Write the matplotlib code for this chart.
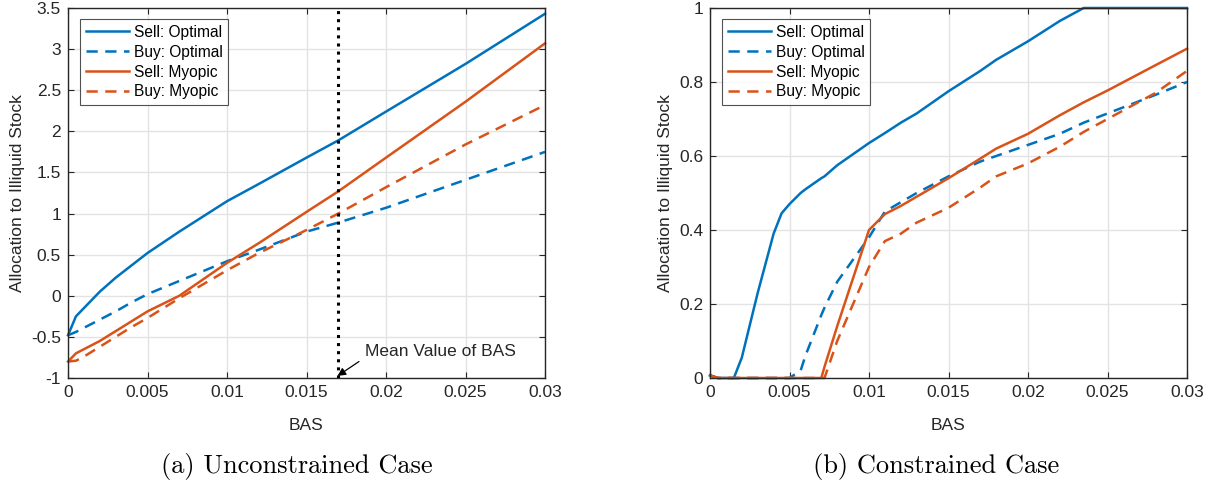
import matplotlib
matplotlib.use("Agg")
import matplotlib.pyplot as plt

plt.rcParams['font.family'] = ['Liberation Sans', 'DejaVu Sans']

BLUE = '#0072BD'
ORANGE = '#D95319'

# (a) unconstrained allocation vs bid-ask spread
bas_a = [0, 0.0005, 0.001, 0.002, 0.003, 0.004, 0.005, 0.007, 0.01, 0.012,
         0.015, 0.017, 0.02, 0.025, 0.03]
sell_opt_a = [-0.48, -0.25, -0.15, 0.05, 0.22, 0.37, 0.52, 0.78, 1.15, 1.36,
              1.68, 1.89, 2.24, 2.82, 3.43]
buy_opt_a = [-0.48, -0.44, -0.39, -0.29, -0.19, -0.08, 0.02, 0.18, 0.42, 0.56,
             0.78, 0.89, 1.07, 1.41, 1.75]
sell_myo_a = [-0.80, -0.70, -0.65, -0.55, -0.43, -0.31, -0.19, 0.0, 0.40, 0.64,
              1.02, 1.27, 1.68, 2.36, 3.07]
buy_myo_a = [-0.80, -0.79, -0.74, -0.62, -0.50, -0.38, -0.27, -0.03, 0.31, 0.52,
             0.80, 1.00, 1.32, 1.84, 2.32]
mean_bas = 0.01695

# (b) constrained allocation (long-only, capped at 1)
bas_b = [0, 0.0005, 0.0015, 0.002, 0.003, 0.004, 0.0045, 0.005, 0.0057, 0.006,
         0.007, 0.0072, 0.008, 0.01, 0.011, 0.012, 0.013, 0.015, 0.017, 0.018,
         0.02, 0.022, 0.0235, 0.025, 0.028, 0.03]
sell_opt_b = [0.007, 0.0, 0.0, 0.055, 0.23, 0.39, 0.445, 0.47, 0.50, 0.51,
              0.54, 0.545, 0.575, 0.635, 0.662, 0.69, 0.715, 0.775, 0.83, 0.86,
              0.91, 0.965, 1.0, 1.0, 1.0, 1.0]
buy_opt_b = [0.007, 0.0, 0.0, 0.0, 0.0, 0.0, 0.0, 0.0, 0.02, 0.06,
             0.17, 0.19, 0.26, 0.38, 0.45, 0.475, 0.50, 0.545, 0.585, 0.60,
             0.63, 0.66, 0.69, 0.715, 0.765, 0.80]
sell_myo_b = [0.007, 0.0, 0.0, 0.0, 0.0, 0.0, 0.0, 0.0, 0.0, 0.0,
              0.0, 0.03, 0.14, 0.40, 0.443, 0.465, 0.49, 0.54, 0.593, 0.62,
              0.66, 0.71, 0.745, 0.777, 0.845, 0.89]
buy_myo_b = [0.007, 0.0, 0.0, 0.0, 0.0, 0.0, 0.0, 0.0, 0.0, 0.0,
             0.0, 0.0, 0.10, 0.30, 0.37, 0.39, 0.42, 0.46, 0.515, 0.545,
             0.58, 0.625, 0.665, 0.70, 0.77, 0.83]

labels = ['Sell: Optimal', 'Buy: Optimal', 'Sell: Myopic', 'Buy: Myopic']
x_ticks = [0, 0.005, 0.01, 0.015, 0.02, 0.025, 0.03]
x_tick_labels = ['0', '0.005', '0.01', '0.015', '0.02', '0.025', '0.03']
y_ticks_a = [-1, -0.5, 0, 0.5, 1, 1.5, 2, 2.5, 3, 3.5]
y_tick_labels_a = ['-1', '-0.5', '0', '0.5', '1', '1.5', '2', '2.5', '3', '3.5']
y_ticks_b = [0, 0.2, 0.4, 0.6, 0.8, 1]
y_tick_labels_b = ['0', '0.2', '0.4', '0.6', '0.8', '1']

fig = plt.figure(figsize=(12.17, 4.82), dpi=100)
ax_a = fig.add_axes([68 / 1217, 104 / 482, 477 / 1217, 370 / 482])
ax_b = fig.add_axes([710 / 1217, 104 / 482, 477 / 1217, 370 / 482])

dash = (0, (4.5, 3))
FS = 12.5


def draw_panel(ax, x, series, yticks, ylabels, ylim):
    styles = [(BLUE, '-'), (BLUE, dash), (ORANGE, '-'), (ORANGE, dash)]
    for (c, ls), y, lab in zip(styles, series, labels):
        ax.plot(x, y, color=c, linestyle=ls, linewidth=1.8, label=lab,
                clip_on=False)
    ax.set_xlim(0, 0.03)
    ax.set_ylim(*ylim)
    ax.set_xticks(x_ticks)
    ax.set_xticklabels(x_tick_labels)
    ax.set_yticks(yticks)
    ax.set_yticklabels(ylabels)
    ax.grid(True, color='#e3e3e3', linewidth=1)
    ax.set_axisbelow(True)
    ax.tick_params(direction='in', top=True, right=True, length=4,
                   labelsize=FS, colors='#262626', pad=5)
    for sp in ax.spines.values():
        sp.set_color('#262626')
        sp.set_linewidth(1)
    ax.set_xlabel('BAS', fontsize=FS, color='#262626', labelpad=13)
    ax.set_ylabel('Allocation to Illiquid Stock', fontsize=FS,
                  color='#262626', labelpad=4)
    leg = ax.legend(loc='upper left', bbox_to_anchor=(0.026, 0.97),
                    fontsize=11.2, frameon=True, fancybox=False,
                    handlelength=2.8, handletextpad=0.3, labelspacing=0.32,
                    borderpad=0.35, borderaxespad=0)
    leg.get_frame().set_edgecolor('#262626')
    leg.get_frame().set_linewidth(0.8)


draw_panel(ax_a, bas_a, [sell_opt_a, buy_opt_a, sell_myo_a, buy_myo_a],
           y_ticks_a, y_tick_labels_a, (-1, 3.5))
draw_panel(ax_b, bas_b, [sell_opt_b, buy_opt_b, sell_myo_b, buy_myo_b],
           y_ticks_b, y_tick_labels_b, (0, 1))

# mean spread marker
ax_a.plot([mean_bas, mean_bas], [-1, 3.5], color='black', linestyle=':',
          linewidth=2.2, zorder=3)
ax_a.annotate('', xy=(mean_bas, -0.975), xytext=(0.0183, -0.8),
              arrowprops=dict(arrowstyle='-|>', color='black', lw=0.9,
                              mutation_scale=12, shrinkA=0, shrinkB=0))
ax_a.text(0.01868, -0.68, 'Mean Value of BAS', fontsize=FS,
          color='#262626', va='center', ha='left')

fig.text(297 / 1217, 1 - 466 / 482, '(a) Unconstrained Case',
         family='cmr10', fontsize=19, ha='center', va='center')
fig.text(936 / 1217, 1 - 466 / 482, '(b) Constrained Case',
         family='cmr10', fontsize=19, ha='center', va='center')

fig.savefig('out.png', dpi=100)
